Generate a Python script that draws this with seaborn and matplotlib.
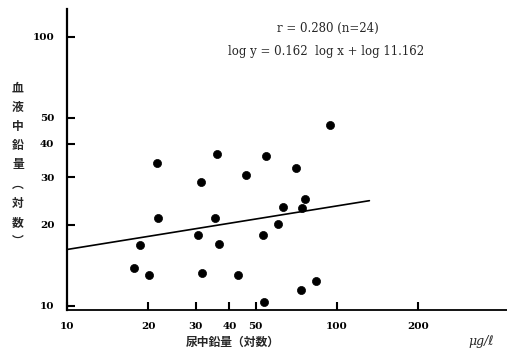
import numpy as np
import pandas as pd
import matplotlib
matplotlib.use("Agg")
import matplotlib.pyplot as plt
import seaborn as sns
from matplotlib.ticker import FixedLocator, FixedFormatter, NullLocator

# urine lead (x) vs blood lead (y), ug/l
urine_pb = [94.2, 21.5, 35.9, 46.0, 54.6, 70.5, 31.4, 21.7, 35.3, 30.6, 18.6, 36.6,
            17.7, 20.1, 31.6, 43.0, 76.1, 63.1, 74.2, 60.4, 53.2, 83.6, 73.6, 53.7]
blood_pb = [47.0, 34.0, 36.6, 30.6, 36.2, 32.5, 28.8, 21.2, 21.2, 18.3, 16.8, 17.0,
            13.8, 13.0, 13.3, 13.0, 25.0, 23.4, 23.2, 20.2, 18.3, 12.4, 11.5, 10.3]

# regression line end points (log y = 0.162 log x + log 11.162)
line_x = [10, 132]
line_y = [16.2, 24.6]

x_ticks = [10, 20, 30, 40, 50, 100, 200]
y_ticks = [10, 20, 30, 40, 50, 100]

df = pd.DataFrame({"urine": urine_pb, "blood": blood_pb})
df_line = pd.DataFrame({"x": line_x, "y": line_y})

sns.set_style("ticks", {"xtick.direction": "in", "ytick.direction": "in"})
plt.rcParams["font.family"] = ["Noto Sans CJK JP", "DejaVu Sans"]

fig = plt.figure(figsize=(5.07, 3.53), dpi=100)
ax = fig.add_axes([0.132, 0.122, 0.868, 0.853])

sns.scatterplot(data=df, x="urine", y="blood", color="black", s=34,
                edgecolor="black", linewidth=0.5, ax=ax, zorder=3)
sns.lineplot(data=df_line, x="x", y="y", color="black", linewidth=1.2, ax=ax)

ax.set_xscale("log")
ax.set_yscale("log")
ax.set_xlim(10, 427)
ax.set_ylim(9.66, 127)

ax.xaxis.set_major_locator(FixedLocator(x_ticks))
ax.xaxis.set_major_formatter(FixedFormatter([str(t) for t in x_ticks]))
ax.yaxis.set_major_locator(FixedLocator(y_ticks))
ax.yaxis.set_major_formatter(FixedFormatter([str(t) for t in y_ticks]))
ax.xaxis.set_minor_locator(NullLocator())
ax.yaxis.set_minor_locator(NullLocator())

ax.tick_params(which="major", bottom=True, left=True, direction="in",
               length=6, width=1.5, color="black", pad=9)
for lab in ax.get_xticklabels() + ax.get_yticklabels():
    lab.set_fontfamily("DejaVu Serif")
    lab.set_fontweight("bold")
    lab.set_fontsize(7.5)
    lab.set_color("black")

for side in ["top", "right"]:
    ax.spines[side].set_visible(False)
ax.spines["left"].set_linewidth(1.6)
ax.spines["bottom"].set_linewidth(1.3)
ax.spines["left"].set_color("black")
ax.spines["bottom"].set_color("black")

ax.set_xlabel("")
ax.set_ylabel("")

fig.text(328 / 507, 1 - 28 / 353, "r = 0.280 (n=24)", ha="center", va="center",
         fontsize=8.5, family="DejaVu Serif")
fig.text(326 / 507, 1 - 51 / 353, "log y = 0.162  log x + log 11.162", ha="center",
         va="center", fontsize=8.5, family="DejaVu Serif")

# vertical y label
fig.text(18 / 507, 1 - 165 / 353, "血\n液\n中\n鉛\n量\n︵\n対\n数\n︶", ha="center",
         va="center", fontsize=8.5, linespacing=1.62, fontweight="bold")
fig.text(233 / 507, 1 - 342 / 353, "尿中鉛量（対数）", ha="center", va="center",
         fontsize=8.5, fontweight="bold")
fig.text(481 / 507, 1 - 342 / 353, "μg/ℓ", ha="center", va="center",
         fontsize=9, style="italic", family=["DejaVu Serif", "DejaVu Sans"])

fig.savefig("out.png", dpi=100)
